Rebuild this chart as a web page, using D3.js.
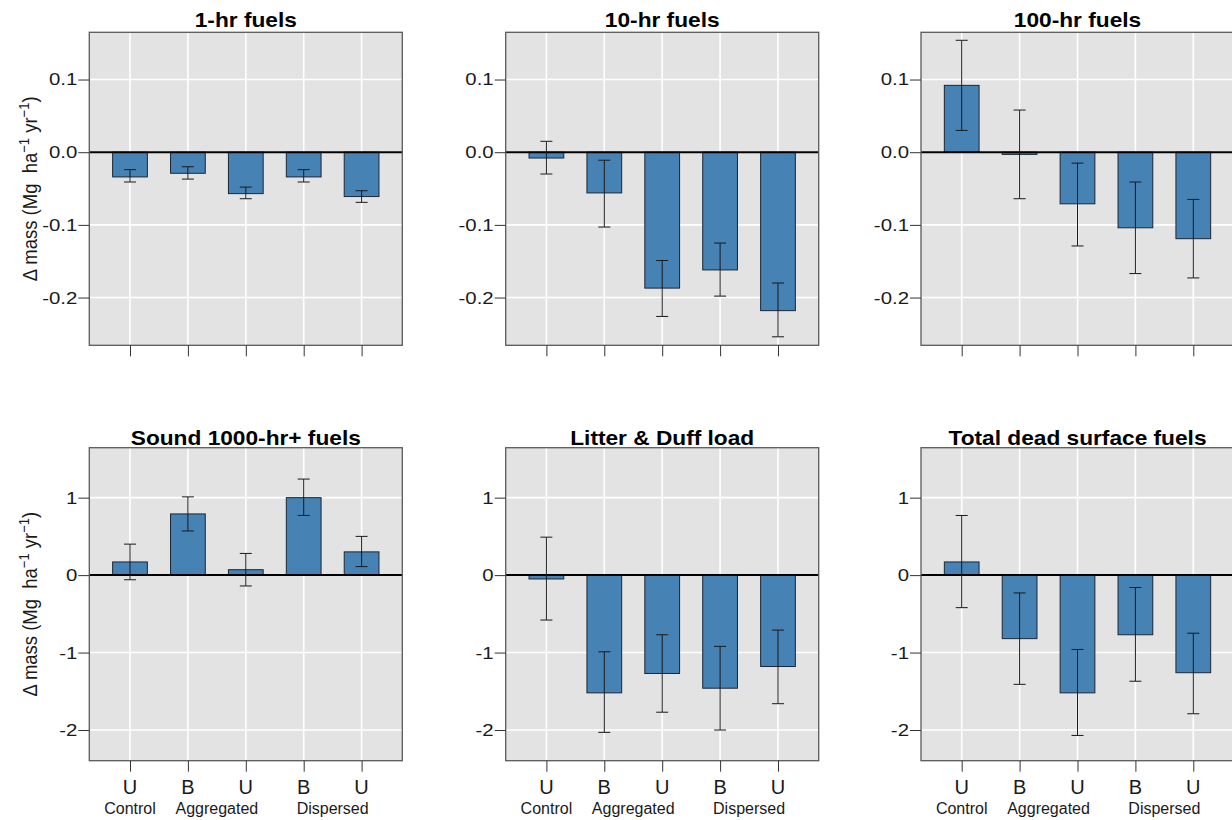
<!DOCTYPE html>
<html>
<head>
<meta charset="utf-8">
<script src="https://cdn.jsdelivr.net/npm/d3@7"></script>
<style>
  body { margin: 0; background: #fff; }
  text { font-family: "Liberation Sans", Arial, sans-serif; }
</style>
</head>
<body>
<div id="chart"></div>
<script>
// panel titles, in reading order
const panelTitles = ["1-hr fuels", "10-hr fuels", "100-hr fuels",
  "Sound 1000-hr+ fuels", "Litter & Duff load", "Total dead surface fuels"];

// bar categories
const treatments = ["U", "B", "U", "B", "U"];
const groupNames = ["Control", "Aggregated", "Dispersed"];
const groupMembers = [[0], [1, 2], [3, 4]];

// values (mean, lower and upper end of error bar)
const oneHrMean = [-0.034, -0.029, -0.057, -0.034, -0.061];
const oneHrLo   = [-0.041, -0.037, -0.064, -0.041, -0.069];
const oneHrHi   = [-0.024, -0.020, -0.048, -0.024, -0.053];

const tenHrMean = [-0.008, -0.056, -0.187, -0.162, -0.218];
const tenHrLo   = [-0.030, -0.103, -0.226, -0.198, -0.254];
const tenHrHi   = [0.015, -0.011, -0.149, -0.125, -0.180];

const hundredHrMean = [0.092, -0.003, -0.071, -0.104, -0.119];
const hundredHrLo   = [0.030, -0.064, -0.129, -0.167, -0.173];
const hundredHrHi   = [0.154, 0.058, -0.015, -0.041, -0.065];

const soundMean = [0.17, 0.79, 0.07, 1.00, 0.30];
const soundLo   = [-0.06, 0.57, -0.14, 0.77, 0.11];
const soundHi   = [0.40, 1.01, 0.28, 1.24, 0.50];

const litterMean = [-0.05, -1.52, -1.27, -1.46, -1.18];
const litterLo   = [-0.58, -2.03, -1.77, -2.00, -1.66];
const litterHi   = [0.49, -0.99, -0.77, -0.92, -0.71];

const totalMean = [0.17, -0.82, -1.52, -0.77, -1.26];
const totalLo   = [-0.42, -1.41, -2.07, -1.37, -1.79];
const totalHi   = [0.77, -0.23, -0.96, -0.16, -0.75];

const topTicks = [-0.2, -0.1, 0, 0.1];
const bottomTicks = [-2, -1, 0, 1];
const topDomain = [-0.2657, 0.165];
const bottomDomain = [-2.396, 1.645];

const panels = [
  [oneHrMean, oneHrLo, oneHrHi],
  [tenHrMean, tenHrLo, tenHrHi],
  [hundredHrMean, hundredHrLo, hundredHrHi],
  [soundMean, soundLo, soundHi],
  [litterMean, litterLo, litterHi],
  [totalMean, totalLo, totalHi]
].map((s, i) => ({
  title: panelTitles[i],
  row: Math.floor(i / 3),
  col: i % 3,
  bars: treatments.map((t, j) => ({ idx: j, t: t, mean: s[0][j], lo: s[1][j], hi: s[2][j] }))
}));

// layout
var W = 1232, H = 820;
var colLeft = [89.3, 505.7, 921],
    rowTop = [32.3, 447.7],
    pw = 313, ph = 313;
var stretch = 1.135; // text in the figure is a bit wide

var svg = d3.select("#chart").append("svg")
  .attr("width", W).attr("height", H);

panels.forEach(p => {
  var g = svg.append("g")
    .attr("transform", "translate(" + colLeft[p.col] + "," + rowTop[p.row] + ")");

  var x = d3.scalePoint()
    .domain(d3.range(treatments.length))
    .range([0, pw])
    .padding(0.703);
  var bw = x.step() * 0.6;

  var y = d3.scaleLinear()
    .domain(p.row === 0 ? topDomain : bottomDomain)
    .range([ph, 0]);
  var ticks = p.row === 0 ? topTicks : bottomTicks;
  var fmt = p.row === 0 ? (d => d.toFixed(1)) : (d => String(d));

  // panel background
  g.append("rect")
    .attr("width", pw).attr("height", ph)
    .attr("fill", "#e3e3e3");

  // grid
  g.selectAll(".hgrid").data(ticks).enter().append("line")
    .attr("x1", 0).attr("x2", pw)
    .attr("y1", d => y(d)).attr("y2", d => y(d))
    .attr("stroke", "#fff").attr("stroke-width", 1.6);
  g.selectAll(".vgrid").data(d3.range(treatments.length)).enter().append("line")
    .attr("x1", d => x(d)).attr("x2", d => x(d))
    .attr("y1", 0).attr("y2", ph)
    .attr("stroke", "#fff").attr("stroke-width", 1.6);

  // bars
  g.selectAll(".bar").data(p.bars).enter().append("rect")
    .attr("x", d => x(d.idx) - bw / 2)
    .attr("width", bw)
    .attr("y", d => y(Math.max(0, d.mean)))
    .attr("height", d => Math.abs(y(d.mean) - y(0)))
    .attr("fill", "#4682b4")
    .attr("stroke", "#1c2733").attr("stroke-width", 1);

  // zero line
  g.append("line")
    .attr("x1", 0).attr("x2", pw)
    .attr("y1", y(0)).attr("y2", y(0))
    .attr("stroke", "#000").attr("stroke-width", 2);

  // error bars
  var eb = g.selectAll(".err").data(p.bars).enter().append("g")
    .attr("stroke", "#1a1a1a").attr("stroke-width", 1);
  eb.append("line")
    .attr("x1", d => x(d.idx)).attr("x2", d => x(d.idx))
    .attr("y1", d => y(d.lo)).attr("y2", d => y(d.hi));
  eb.append("line")
    .attr("x1", d => x(d.idx) - 6).attr("x2", d => x(d.idx) + 6)
    .attr("y1", d => y(d.lo)).attr("y2", d => y(d.lo));
  eb.append("line")
    .attr("x1", d => x(d.idx) - 6).attr("x2", d => x(d.idx) + 6)
    .attr("y1", d => y(d.hi)).attr("y2", d => y(d.hi));

  // panel border
  g.append("rect")
    .attr("width", pw).attr("height", ph)
    .attr("fill", "none")
    .attr("stroke", "#5a5a5a").attr("stroke-width", 1.3);

  // y axis
  var ya = g.append("g")
    .call(d3.axisLeft(y).tickValues(ticks).tickSize(11).tickPadding(3).tickFormat(fmt));
  ya.select(".domain").remove();
  ya.selectAll(".tick line").attr("stroke", "#333");
  ya.selectAll(".tick text")
    .attr("x", null)
    .attr("transform", "translate(-12,0) scale(1.2,1)")
    .attr("font-size", 17)
    .attr("fill", "#1a1a1a")
    .style("font-family", '"Liberation Sans", Arial, sans-serif');

  // x axis
  var xa = g.append("g")
    .attr("transform", "translate(0," + ph + ")")
    .call(d3.axisBottom(x).tickSize(11).tickFormat(""));
  xa.select(".domain").remove();
  xa.selectAll(".tick line").attr("stroke", "#333");

  if (p.row === 1) {
    g.selectAll(".tlab").data(p.bars).enter().append("text")
      .attr("x", d => x(d.idx))
      .attr("y", ph + 33)
      .attr("text-anchor", "middle")
      .attr("font-size", 20)
      .attr("fill", "#1a1a1a")
      .text(d => d.t);
    g.selectAll(".glab").data(groupNames).enter().append("text")
      .attr("x", (d, i) => d3.mean(groupMembers[i], j => x(j)))
      .attr("y", ph + 53)
      .attr("text-anchor", "middle")
      .attr("font-size", 16)
      .attr("fill", "#1a1a1a")
      .text(d => d);
  }

  // title
  g.append("text")
    .attr("transform", "translate(" + (pw / 2) + "," + (p.row === 0 ? -5.6 : -3.2) + ") scale(" + stretch + ",1)")
    .attr("text-anchor", "middle")
    .attr("font-size", 20)
    .attr("font-weight", "bold")
    .attr("fill", "#000")
    .text(p.title);

  // y label on the left column only
  if (p.col === 0) {
    var lab = g.append("text")
      .attr("transform", "translate(" + (37 - colLeft[0]) + "," + (ph / 2) + ") rotate(-90) scale(1," + stretch + ")")
      .attr("text-anchor", "middle")
      .attr("font-size", 18.5)
      .attr("fill", "#1a1a1a")
      .style("white-space", "pre");
    lab.append("tspan").text("\u0394 mass (Mg  ha");
    lab.append("tspan").attr("font-size", 13).attr("dy", -7).text("\u22121");
    lab.append("tspan").attr("dy", 7).text(" yr");
    lab.append("tspan").attr("font-size", 13).attr("dy", -7).text("\u22121");
    lab.append("tspan").attr("dy", 7).text(")");
  }
});
</script>
</body>
</html>
